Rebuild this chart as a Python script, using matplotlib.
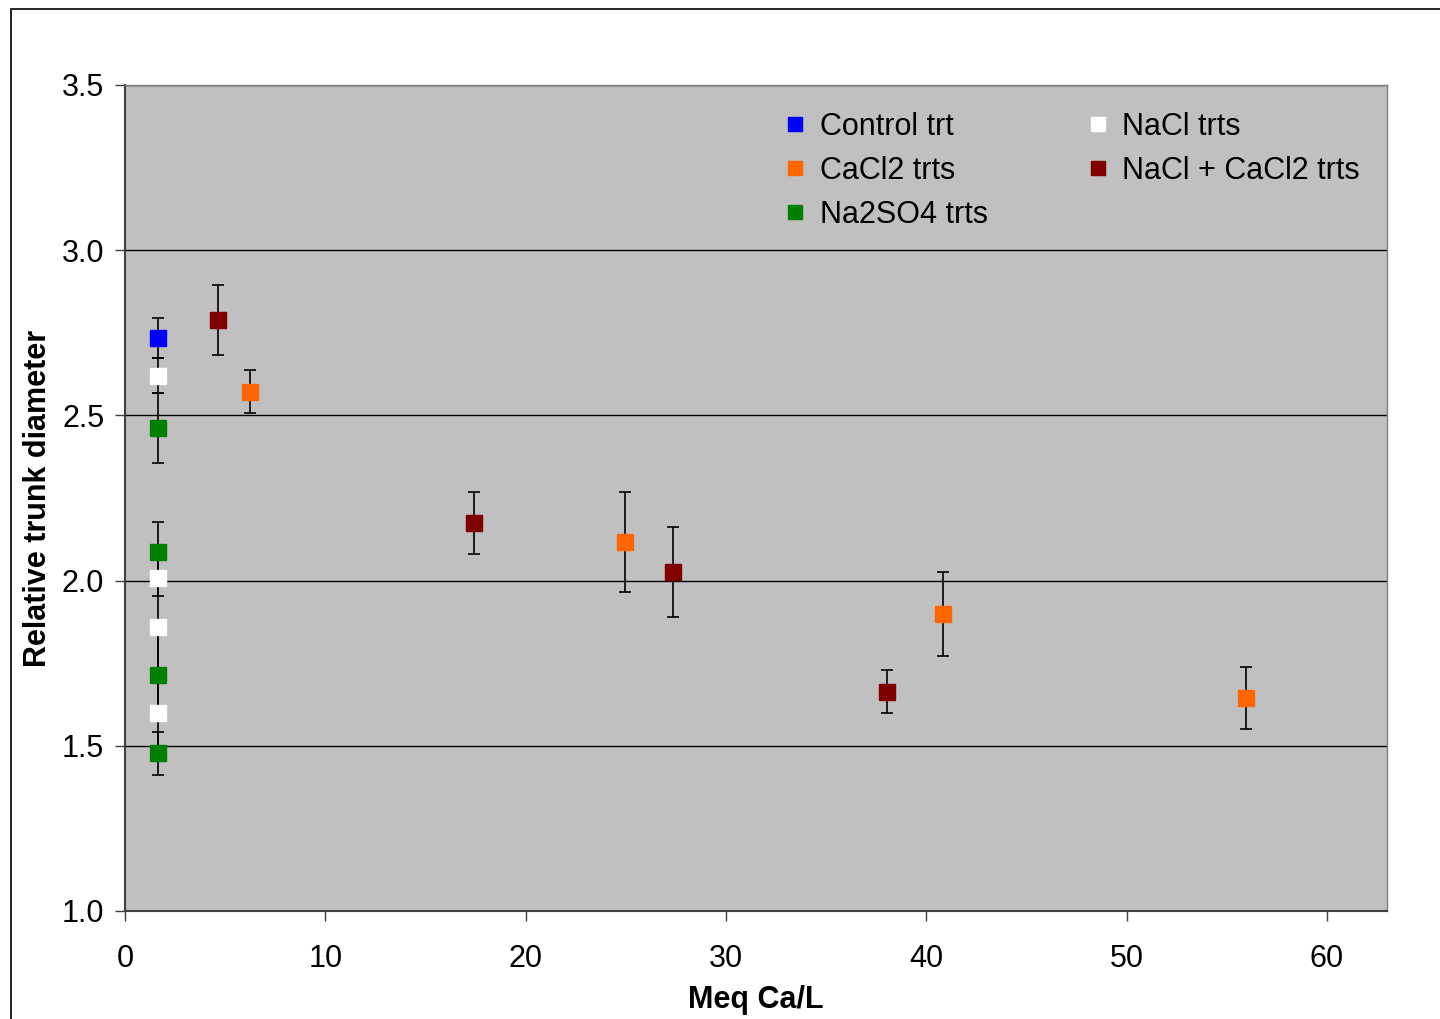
import matplotlib
matplotlib.use("Agg")
import matplotlib.pyplot as plt
from matplotlib.patches import Rectangle

plt.rcParams['font.family'] = ['Liberation Sans', 'DejaVu Sans']

# series values
ctrl_x = [1.65]
ctrl_y = [2.735]
ctrl_err = [0.06]

nacl_x = [1.65, 1.65, 1.65, 1.65]
nacl_y = [2.62, 2.008, 1.86, 1.60]
nacl_err = [0.053, 0.054, 0.145, 0.12]

na2so4_x = [1.65, 1.65, 1.65, 1.65]
na2so4_y = [2.462, 2.087, 1.714, 1.478]
na2so4_err = [0.105, 0.09, 0.12, 0.065]

cacl2_x = [6.24, 24.96, 40.84, 55.97]
cacl2_y = [2.571, 2.117, 1.899, 1.645]
cacl2_err = [0.065, 0.15, 0.127, 0.094]

mix_x = [4.64, 17.42, 27.36, 38.04]
mix_y = [2.789, 2.174, 2.026, 1.663]
mix_err = [0.105, 0.094, 0.137, 0.065]

fig = plt.figure(figsize=(14.4, 10.19), dpi=100)
ax = fig.add_axes([125/1440, 1 - 911/1019, (1387 - 125)/1440, (911 - 85)/1019])
ax.set_facecolor('#c0c0c0')

# outer chart frame
fig.add_artist(Rectangle((11/1440, -0.05), 1.1, 1 - 9/1019 + 0.05,
                         transform=fig.transFigure, fill=False,
                         edgecolor='black', linewidth=1.2))

series = [
    ('Control trt', ctrl_x, ctrl_y, ctrl_err, '#0000ff'),
    ('CaCl2 trts', cacl2_x, cacl2_y, cacl2_err, '#ff6600'),
    ('Na2SO4 trts', na2so4_x, na2so4_y, na2so4_err, '#008000'),
    ('NaCl trts', nacl_x, nacl_y, nacl_err, '#ffffff'),
    ('NaCl + CaCl2 trts', mix_x, mix_y, mix_err, '#800000'),
]

# draw error bars first, then markers on top
for name, xs, ys, errs, col in series:
    ax.errorbar(xs, ys, yerr=errs, fmt='none', ecolor='black',
                elinewidth=1.2, capsize=4.5, capthick=1.2, zorder=3)

handles = []
for name, xs, ys, errs, col in series:
    h, = ax.plot(xs, ys, linestyle='none', marker='s', markersize=12,
                 markerfacecolor=col, markeredgecolor=col, label=name, zorder=4)
    handles.append(h)

ax.set_xlim(0, 63)
ax.set_ylim(1.0, 3.5)
ax.set_xticks([0, 10, 20, 30, 40, 50, 60])
ax.set_yticks([1.0, 1.5, 2.0, 2.5, 3.0, 3.5])
ax.set_yticklabels(['1.0', '1.5', '2.0', '2.5', '3.0', '3.5'])
ax.yaxis.grid(True, color='black', linewidth=1.0)
ax.set_axisbelow(True)
ax.tick_params(labelsize=22, direction='out', length=7, width=1, color='#404040')
ax.tick_params(axis='x', pad=17)
ax.tick_params(axis='y', pad=8)

for s in ['left', 'bottom']:
    ax.spines[s].set_color('#404040')
    ax.spines[s].set_linewidth(1.5)
for s in ['top', 'right']:
    ax.spines[s].set_color('#808080')
    ax.spines[s].set_linewidth(1.0)

ax.set_xlabel('Meq Ca/L', fontsize=22, fontweight='bold', labelpad=8)
ax.set_ylabel('Relative trunk diameter', fontsize=22, fontweight='bold', labelpad=6)

ax.legend(handles=handles, ncol=2, frameon=False, fontsize=22,
          loc='upper left', bbox_to_anchor=(0.502, 1.001),
          handlelength=0.6, handletextpad=0.5, columnspacing=3.3,
          labelspacing=0.46, markerscale=0.85)

fig.savefig('out.png', dpi=100)
